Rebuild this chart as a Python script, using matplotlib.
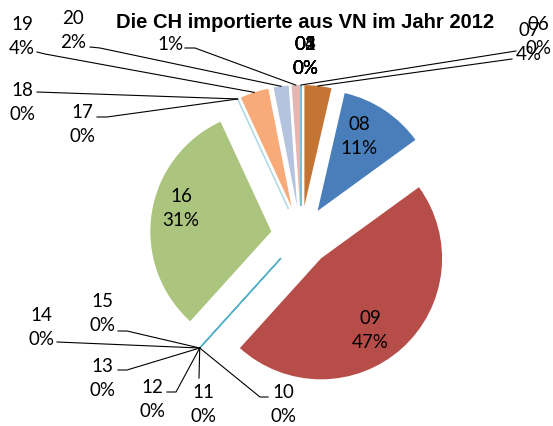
import numpy as np
import matplotlib.pyplot as plt

# data
categories = ["01", "02", "03", "04", "05", "06", "07", "08", "09", "10", "11",
              "12", "13", "14", "15", "16", "17", "18", "19", "20", "21"]
shares = [0, 0, 0, 0, 0, 0, 3.6, 11.4, 46.7, 0, 0,
          0, 0, 0, 0, 31.4, 0, 0, 3.8, 2.0, 1.1]
colors = ["#4BACC6", "#4BACC6", "#4BACC6", "#4BACC6", "#4BACC6", "#93CDDD",
          "#C47534", "#4A7EBB", "#B74D48", "#93CDDD", "#4BACC6", "#93CDDD",
          "#4BACC6", "#93CDDD", "#4BACC6", "#ABC57F", "#93CDDD", "#B7DEE8",
          "#F8AA78", "#B4C4E0", "#E2B7B6"]
title = "Die CH importierte aus VN im Jahr 2012"

W, H = 553, 427

def px(x, y):
    # pixel coords (origin top-left) -> data coords
    return x, H - y

# label layout: text centre, leader start, optional elbow (pixels)
label_layout = {
    "01": ((305, 57), None, None), "02": ((305, 57), None, None),
    "03": ((305, 57), None, None), "04": ((305, 57), None, None),
    "05": ((305, 57), None, None),
    "06": ((538, 36), (516, 52), None),
    "07": ((529, 43), (512, 60), None),
    "08": ((359, 136), None, None),
    "09": ((370, 331), None, None),
    "10": ((283, 405), (268, 398), (260, 398)),
    "11": ((203, 405), (199, 379), None),
    "12": ((152, 400), (167, 393), (176, 393)),
    "13": ((102, 379), (118, 371), (127, 371)),
    "14": ((41, 328), (57, 343), None),
    "15": ((102, 314), (118, 332), (127, 332)),
    "16": ((181, 209), None, None),
    "17": ((82, 125), (97, 118), (107, 118)),
    "18": ((22, 102), (37, 93), None),
    "19": ((22, 37), (37, 53), (45, 55)),
    "20": ((73, 30), (90, 48), (100, 49)),
    "21": ((170, 32), (185, 49), (195, 49)),
}

fig = plt.figure(figsize=(W / 100, H / 100), dpi=100)
ax = fig.add_axes([0, 0, 1, 1])

radius = 121
wedges, _ = ax.pie(shares, colors=colors, startangle=90, counterclock=False,
                   center=px(301, 237), radius=radius,
                   explode=[30] * len(shares),
                   wedgeprops=dict(linewidth=0))
for w, v, c in zip(wedges, shares, colors):
    if v == 0:
        w.set_edgecolor(c)
        w.set_linewidth(0.9)

ax.set_xlim(0, W)
ax.set_ylim(0, H)
ax.set_aspect("equal")
ax.axis("off")

total = sum(shares)
for w, cat, v in zip(wedges, categories, shares):
    pos, anchor, elbow = label_layout[cat]
    txt = f"{cat}\n{v / total * 100:.0f}%"
    ax.text(*px(*pos), txt, ha="center", va="center", ma="center",
            fontsize=13.5, family=["Lato", "DejaVu Sans"], linespacing=1.5,
            color="black", zorder=5)
    if anchor is None:
        continue
    mid = np.deg2rad((w.theta1 + w.theta2) / 2)
    tx = w.center[0] + w.r * np.cos(mid)
    ty = w.center[1] + w.r * np.sin(mid)
    pts = [px(*anchor)]
    if elbow is not None:
        pts.append(px(*elbow))
    pts.append((tx, ty))
    xs, ys = zip(*pts)
    ax.plot(xs, ys, color="black", lw=0.8, zorder=4)

ax.text(*px(305, 22), title, ha="center", va="center", fontsize=14.5,
        fontweight="bold", family=["Liberation Sans", "DejaVu Sans"],
        bbox=dict(facecolor="white", edgecolor="none", pad=1), zorder=10)

fig.savefig("out.png", dpi=100)
